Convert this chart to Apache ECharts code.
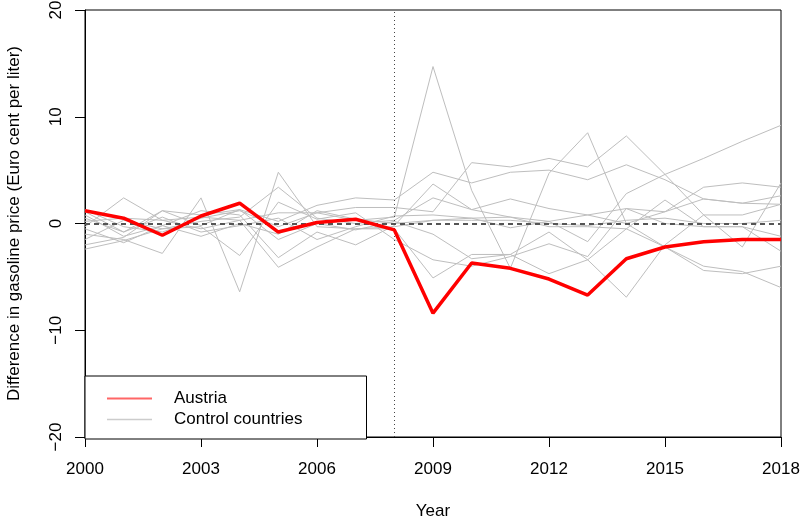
<!DOCTYPE html>
<html>
<head>
<meta charset="utf-8">
<script src="https://cdn.jsdelivr.net/npm/echarts@6/dist/echarts.min.js"></script>
<style>
html,body{margin:0;padding:0;background:#fff;}
#chart{width:801px;height:522px;}
</style>
</head>
<body>
<div id="chart"></div>
<script>
const years = ['2000','2001','2002','2003','2004','2005','2006','2007','2008','2009','2010','2011','2012','2013','2014','2015','2016','2017','2018'];
const yTicks = [-20, -10, 0, 10, 20];
const treatmentYear = '2008';

const austria = [1.2, 0.5, -1.1, 0.7, 1.9, -0.8, 0.1, 0.4, -0.6, -8.4, -3.7, -4.2, -5.2, -6.7, -3.3, -2.2, -1.7, -1.5, -1.5];

const control1  = [1.3, -0.3, -0.8, 0.5, 1.2, -0.3, 1.0, 0.3, 0.6, 14.7, 3.1, -4.2, 4.7, 8.5, 0.0, -2.2, -4.0, -4.5, -6.0];
const control2  = [-0.3, 2.4, 0.3, -0.5, 0.3, 1.0, 1.0, 1.5, 1.5, 1.1, 5.7, 5.3, 6.1, 5.3, 8.2, 4.6, 0.8, -2.2, 3.8];
const control3  = [0.5, -0.8, 1.2, 0.8, 1.3, 0.2, 1.7, 2.4, 2.2, 4.8, 3.8, 4.8, 5.0, 4.1, 5.5, 4.1, 2.3, 1.9, 2.6];
const control4  = [-2.4, -1.6, -0.5, 0.2, 0.6, 3.4, 0.5, 0.0, 0.3, 2.4, 1.3, 0.6, 0.2, -1.7, 2.8, 4.6, 6.1, 7.7, 9.2];
const control5  = [-1.0, -1.5, -2.8, 2.4, -6.4, 4.8, -0.3, -0.5, -0.5, -5.1, -2.9, -2.9, -0.8, -3.4, -6.9, -2.0, 0.8, 0.8, 1.8];
const control6  = [0.8, -1.2, -0.2, 1.2, 0.8, -3.2, -0.8, -2.0, -0.2, 3.7, 1.3, 2.3, 1.4, 0.8, 1.4, 1.1, 3.4, 3.8, 3.4];
const control7  = [0.2, 0.5, 0.3, 0.6, 0.3, -4.1, -2.2, -0.5, -0.3, 0.3, 0.5, 0.6, -0.3, -0.3, -0.5, 2.2, -0.3, -0.3, -2.6];
const control8  = [-1.5, 0.3, -0.5, -0.3, -3.0, 2.0, 0.4, 1.0, -1.5, -3.4, -4.0, -3.1, -1.9, -3.1, 1.4, 0.0, -0.3, -0.3, -1.2];
const control9  = [-2.0, -1.3, 1.2, -0.2, 1.3, -1.5, 0.0, -0.6, 0.2, -1.0, -3.3, -2.9, -4.7, -3.4, -0.5, -2.2, -4.4, -4.7, -4.0];
const control10 = [1.1, -0.8, 0.6, -0.8, -0.2, 0.5, -1.5, -0.3, 0.7, 0.8, 0.5, -0.4, 0.2, 0.8, 0.0, 1.1, 2.3, 1.9, 1.8];
const control11 = [-0.5, -1.8, -0.2, -1.2, 0.0, -1.0, 1.2, 0.4, 0.0, 0.3, 0.3, 0.3, 0.0, -0.2, 0.3, 0.5, 0.0, 0.0, 0.3];
const controls = [control1, control2, control3, control4, control5, control6, control7, control8, control9, control10, control11];

const FONT = 'Liberation Sans, Arial, Helvetica, sans-serif';
const FS = 17;

const chart = echarts.init(document.getElementById('chart'), null, {renderer: 'canvas'});

const series = controls.map(d => ({
  name: 'Control countries',
  type: 'line',
  data: d,
  symbol: 'none',
  z: 2,
  silent: true,
  animation: false,
  lineStyle: {color: '#BEBEBE', width: 1},
  itemStyle: {color: '#BEBEBE'}
}));

series.push({
  name: 'ref',
  type: 'line',
  data: [],
  z: 3,
  silent: true,
  animation: false,
  markLine: {
    silent: true,
    symbol: 'none',
    label: {show: false},
    animation: false,
    data: [
      {yAxis: 0, lineStyle: {color: '#555', width: 2, type: [5, 4]}},
      {xAxis: treatmentYear, lineStyle: {color: '#444', width: 1, type: [1, 3]}}
    ]
  }
});

series.push({
  name: 'Austria',
  type: 'line',
  data: austria,
  symbol: 'none',
  z: 5,
  silent: true,
  animation: false,
  lineStyle: {color: '#FF0000', width: 3.5},
  itemStyle: {color: '#FF0000'}
});

chart.setOption({
  backgroundColor: '#fff',
  animation: false,
  textStyle: {fontFamily: FONT, color: '#000'},
  grid: {left: 85, right: 20, top: 10, bottom: 85, containLabel: false, outerBoundsMode: 'none',
    show: true, borderColor: '#000', borderWidth: 1, backgroundColor: 'transparent'},
  legend: {
    orient: 'vertical',
    left: 85,
    top: 376,
    padding: [14, 64, 11, 22],
    itemWidth: 45,
    itemHeight: 14,
    itemGap: 4,
    backgroundColor: '#fff',
    borderColor: '#000',
    borderWidth: 1,
    borderRadius: 0,
    z: 10,
    selectedMode: false,
    textStyle: {fontFamily: FONT, fontSize: FS, color: '#000', padding: [0, 0, 0, 17]},
    data: [
      {name: 'Austria', icon: 'path://M0,0 L45,0 L45,2 L0,2 Z', itemStyle: {color: '#FF6666'}},
      {name: 'Control countries', icon: 'path://M0,0 L45,0 L45,1.4 L0,1.4 Z', itemStyle: {color: '#CCCCCC'}}
    ]
  },
  xAxis: {
    type: 'category',
    data: years,
    boundaryGap: false,
    name: 'Year',
    nameLocation: 'middle',
    nameGap: 66,
    nameTextStyle: {fontFamily: FONT, fontSize: FS, color: '#000'},
    axisLine: {show: true, onZero: false, lineStyle: {color: '#000', width: 1}},
    axisTick: {show: true, length: 10, interval: 2, lineStyle: {color: '#000', width: 1}},
    axisLabel: {show: true, interval: 2, margin: 24, fontFamily: FONT, fontSize: FS, color: '#000'},
    splitLine: {show: false}
  },
  yAxis: {
    type: 'value',
    min: yTicks[0],
    max: yTicks[yTicks.length - 1],
    interval: 10,
    name: 'Difference in gasoline price (Euro cent per liter)',
    nameLocation: 'middle',
    nameGap: 62,
    nameTextStyle: {fontFamily: FONT, fontSize: FS, color: '#000'},
    axisLine: {show: true, onZero: false, lineStyle: {color: '#000', width: 1}},
    axisTick: {show: true, length: 10, lineStyle: {color: '#000', width: 1}},
    axisLabel: {show: true, rotate: 90, margin: 20, fontFamily: FONT, fontSize: FS, color: '#000',
      formatter: v => (v < 0 ? '\u2212' + Math.abs(v) : String(v))},
    splitLine: {show: false}
  },
  series: series
});
</script>
</body>
</html>
